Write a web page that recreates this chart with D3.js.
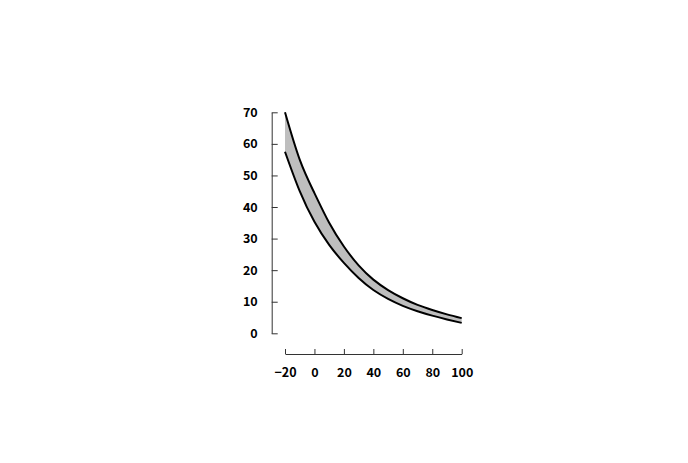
<!DOCTYPE html>
<html>
<head>
<meta charset="utf-8">
<script src="https://cdn.jsdelivr.net/npm/d3@7"></script>
<style>
  body { margin: 0; background: #fff; }
  .axis text { font-family: "Noto Sans CJK JP", "Liberation Sans", sans-serif; font-weight: bold; font-size: 12.5px; fill: #000; }
  .axis path, .axis line { stroke: #333; stroke-width: 1; }
</style>
</head>
<body>
<div id="chart"></div>
<script>
// values
const xs = [-20, -10, 0, 10, 20, 30, 40, 50, 60, 70, 80, 90, 100];
const upper = [70, 55, 44.4, 35, 27.5, 21.5, 17, 13.7, 11.1, 9.0, 7.4, 6.0, 4.8];
const lower = [57.5, 45, 35.3, 28, 22.3, 17.5, 13.7, 10.9, 8.7, 7.0, 5.6, 4.4, 3.3];
const xTicks = [-20, 0, 20, 40, 60, 80, 100];
const yTicks = [0, 10, 20, 30, 40, 50, 60, 70];

const width = 688, height = 463;

const svg = d3.select("#chart")
  .append("svg")
  .attr("width", width)
  .attr("height", height);

const x = d3.scaleLinear().domain([-20, 100]).range([285, 461.7]);
const y = d3.scaleLinear().domain([0, 70]).range([333.3, 112.3]);

const data = xs.map((d, i) => ({ x: d, hi: upper[i], lo: lower[i] }));

// band between the two curves
svg.append("path")
  .datum(data)
  .attr("fill", "#bebebe")
  .attr("d", d3.area()
    .x((d) => x(d.x))
    .y0((d) => y(d.lo))
    .y1((d) => y(d.hi))
    .curve(d3.curveNatural));

// the two curves
["hi", "lo"].forEach((k) => {
  svg.append("path")
    .datum(data)
    .attr("fill", "none")
    .attr("stroke", "#000")
    .attr("stroke-width", 2)
    .attr("d", d3.line()
      .x((d) => x(d.x))
      .y((d) => y(d[k]))
      .curve(d3.curveNatural));
});

// y axis, detached to the left, ticks pointing inward
svg.append("g")
  .attr("class", "axis")
  .attr("transform", "translate(271.7,0)")
  .call(d3.axisLeft(y).tickValues(yTicks).tickSizeInner(-6).tickSizeOuter(0).tickPadding(14));

// x axis, detached below
svg.append("g")
  .attr("class", "axis")
  .attr("transform", "translate(0,354)")
  .call(d3.axisBottom(x).tickValues(xTicks).tickSizeInner(-5).tickSizeOuter(0).tickPadding(14));
</script>
</body>
</html>
